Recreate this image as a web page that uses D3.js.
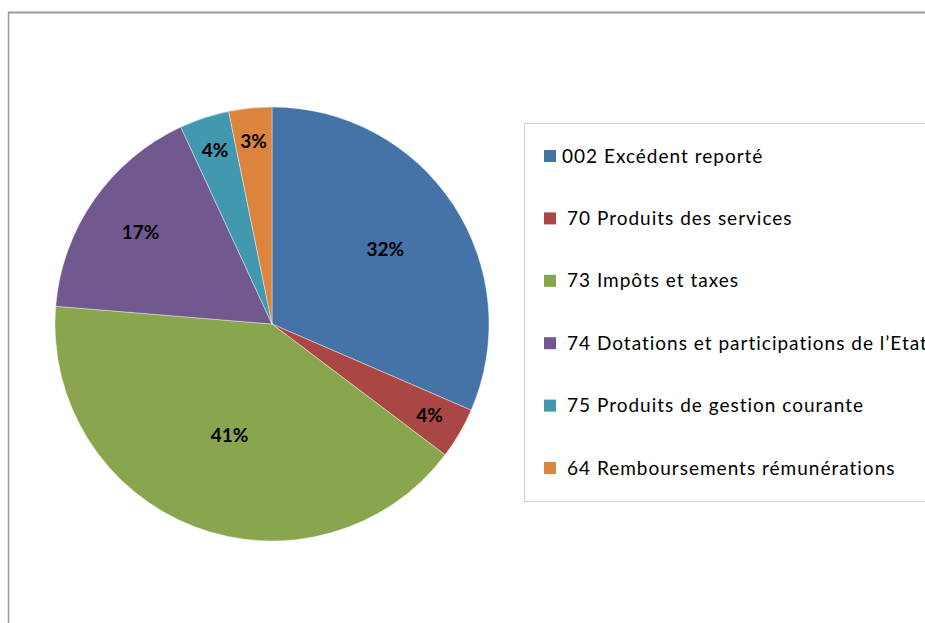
<!DOCTYPE html>
<html>
<head>
<meta charset="utf-8">
<script src="https://cdn.jsdelivr.net/npm/d3@7"></script>
<style>
  body { margin: 0; background: #fff; }
  svg { display: block; }
</style>
</head>
<body>
<svg id="chart"></svg>
<script>
// données
var categories = [
  "002 Excédent reporté",
  "70 Produits des services",
  "73 Impôts et taxes",
  "74 Dotations et participations de l\u2019Etat",
  "75 Produits de gestion courante",
  "64 Remboursements rémunérations"
];
var values = [31.5, 3.8, 41.0, 16.8, 3.7, 3.2];
var colors = ["#4572A7", "#AA4643", "#89A54E", "#71588F", "#4198AF", "#DB843D"];

var W = 925, H = 623;
var svg = d3.select("svg#chart").attr("width", W).attr("height", H);

// cadre
svg.append("line").attr("x1", 8).attr("y1", 12.5).attr("x2", W).attr("y2", 12.5)
  .attr("stroke", "#9a9a9a").attr("stroke-width", 2);
svg.append("line").attr("x1", 8.5).attr("y1", 12).attr("x2", 8.5).attr("y2", H)
  .attr("stroke", "#9a9a9a").attr("stroke-width", 1.5);

var cx = 272, cy = 324, R = 217;
var total = d3.sum(values);

var pie = d3.pie().sort(null).value(function(d) { return d; });
var arcs = pie(values);
var arc = d3.arc().innerRadius(0).outerRadius(R);

var g = svg.append("g").attr("transform", "translate(" + cx + "," + cy + ")");

g.selectAll("path").data(arcs).enter()
  .append("path")
  .attr("d", arc)
  .attr("fill", function(d, i) { return colors[i]; })
  .attr("stroke", "#fff")
  .attr("stroke-width", 0.4);

// étiquettes : plus la part est petite, plus on se rapproche du bord
g.selectAll("text").data(arcs).enter()
  .append("text")
  .attr("transform", function(d) {
    var share = d.value / total;
    var r = R * (0.87 - 0.78 * share);
    var a = (d.startAngle + d.endAngle) / 2;
    return "translate(" + (Math.sin(a) * r) + "," + (-Math.cos(a) * r) + ")";
  })
  .attr("text-anchor", "middle")
  .attr("dy", "0.35em")
  .attr("font-family", "Lato, 'Open Sans', sans-serif")
  .attr("font-weight", "bold")
  .attr("font-size", 19)
  .attr("fill", "#000")
  .text(function(d) { return Math.round(d.value / total * 100) + "%"; });

// légende
var lx = 524, ly = 123, lh = 378;
svg.append("rect").attr("x", lx + 0.5).attr("y", ly + 0.5)
  .attr("width", W - lx + 10).attr("height", lh)
  .attr("fill", "#fff").attr("stroke", "#d0d0d0");

var rowY = d3.scalePoint().domain(d3.range(categories.length))
  .range([ly + 33, ly + 345]);

var items = svg.selectAll("g.legend").data(categories).enter()
  .append("g").attr("class", "legend")
  .attr("transform", function(d, i) { return "translate(" + (lx + 20) + "," + rowY(i) + ")"; });

items.append("rect")
  .attr("x", 0).attr("y", -6).attr("width", 12).attr("height", 12)
  .attr("fill", function(d, i) { return colors[i]; });

items.append("text")
  .attr("x", function(d, i) { return i === 0 ? 18 : 23; })
  .attr("dy", "0.35em")
  .attr("font-family", "Lato, 'Open Sans', sans-serif")
  .attr("font-size", 19)
  .attr("letter-spacing", 1)
  .attr("fill", "#000")
  .text(function(d) { return d; });
</script>
</body>
</html>
